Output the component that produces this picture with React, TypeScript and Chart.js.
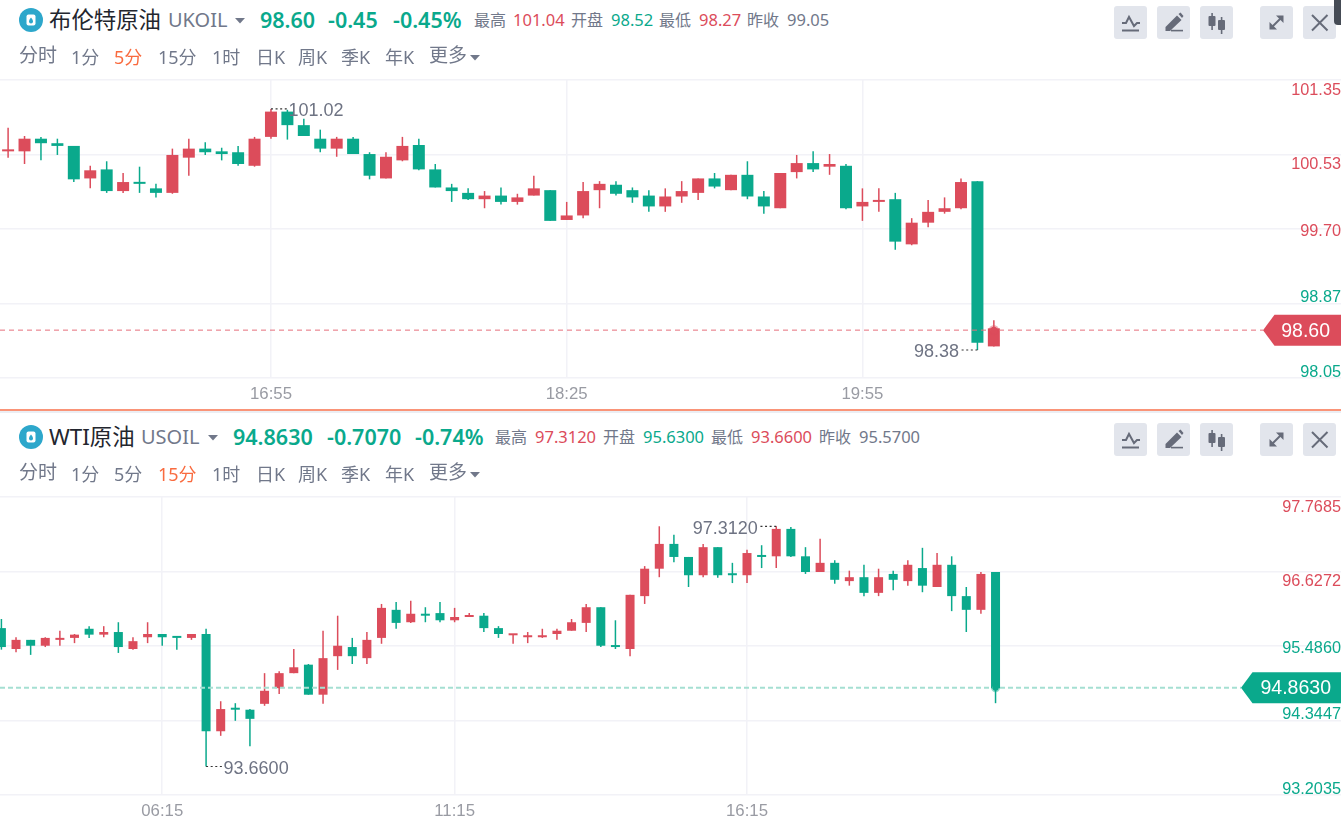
import React, { useEffect, useRef } from "react";
import { Chart, registerables } from "chart.js";

Chart.register(...registerables);

// ---------- Brent (UKOIL) 5 min candles ----------
const brentOpen = [100.56,100.56,100.70,100.65,100.62,100.26,100.36,100.12,100.22,100.15,100.10,100.49,100.59,100.56,100.55,100.40,100.72,101.00,100.85,100.70,100.59,100.70,100.53,100.26,100.46,100.63,100.36,100.16,100.10,100.03,100.07,100.00,100.07,100.13,99.80,99.85,100.13,100.19,100.13,100.07,99.95,100.06,100.10,100.26,100.13,100.30,100.06,99.93,100.33,100.43,100.39,100.40,99.95,100.00,100.03,99.53,99.77,99.89,99.93,100.23,98.40];
const brentHigh = [100.82,100.73,100.72,100.70,100.62,100.40,100.45,100.32,100.39,100.20,100.59,100.70,100.66,100.60,100.62,100.72,101.03,101.02,100.92,100.80,100.72,100.72,100.55,100.55,100.72,100.70,100.42,100.20,100.15,100.12,100.16,100.09,100.29,100.13,100.00,100.22,100.23,100.23,100.16,100.13,100.15,100.23,100.26,100.32,100.30,100.45,100.12,100.32,100.52,100.56,100.53,100.42,100.15,100.15,100.10,99.82,100.02,100.05,100.26,100.23,98.69];
const brentLow = [100.49,100.42,100.46,100.52,100.22,100.15,100.10,100.10,100.10,100.05,100.09,100.29,100.52,100.46,100.40,100.39,100.70,100.69,100.73,100.55,100.50,100.53,100.25,100.26,100.45,100.35,100.16,100.00,100.02,99.93,99.97,99.97,100.07,99.79,99.80,99.82,99.93,100.07,99.99,99.89,99.89,99.99,100.02,100.15,100.13,100.03,99.87,99.93,100.26,100.33,100.30,99.92,99.79,99.89,99.47,99.52,99.72,99.87,99.92,98.36,98.40];
const brentClose = [100.56,100.70,100.65,100.62,100.25,100.35,100.12,100.22,100.20,100.10,100.52,100.59,100.55,100.53,100.42,100.70,101.00,100.85,100.73,100.59,100.70,100.53,100.29,100.50,100.62,100.36,100.16,100.12,100.03,100.07,100.00,100.05,100.15,99.79,99.85,100.12,100.20,100.09,100.05,99.95,100.06,100.12,100.26,100.17,100.30,100.06,99.95,100.32,100.43,100.36,100.42,99.93,100.00,100.00,99.56,99.77,99.89,99.93,100.22,98.44,98.60];
const brentTickValues = [98.05, 98.875, 99.70, 100.525, 101.35];
const brentTickLabels = ["98.05", "98.87", "99.70", "100.53", "101.35"];
const brentTimeSlots = [16, 34, 52];
const brentTimes = ["16:55", "18:25", "19:55"];

// ---------- WTI (USOIL) 15 min candles ----------
const wtiOpen = [95.76,95.44,95.58,95.49,95.58,95.61,95.75,95.66,95.70,95.44,95.62,95.67,95.62,95.61,95.67,94.18,94.52,94.51,94.60,94.84,95.07,95.20,94.74,95.33,95.47,95.30,95.61,96.04,95.85,95.98,95.99,95.88,95.93,95.95,95.76,95.65,95.62,95.62,95.67,95.72,95.84,96.08,95.49,95.44,96.25,96.67,97.05,96.85,96.57,97.00,96.59,96.57,96.86,96.86,97.28,96.86,96.62,96.76,96.48,96.54,96.30,96.59,96.48,96.68,96.39,96.73,96.25,96.04,96.62];
const wtiHigh = [95.90,95.62,95.58,95.62,95.72,95.67,95.79,95.79,95.85,95.62,95.85,95.67,95.62,95.67,95.75,94.64,94.61,94.52,95.07,95.10,95.44,95.21,95.72,95.95,95.61,95.70,96.13,96.16,96.18,96.08,96.16,96.07,95.99,95.99,95.79,95.67,95.70,95.75,95.75,95.90,96.13,96.08,95.88,96.27,96.71,97.32,97.19,96.85,97.05,97.00,96.76,96.96,97.03,97.32,97.31,97.00,97.13,96.80,96.64,96.73,96.67,96.64,96.80,96.99,96.91,96.86,96.39,96.62,96.62];
const wtiLow = [95.43,95.39,95.35,95.47,95.49,95.53,95.61,95.62,95.38,95.43,95.53,95.49,95.43,95.58,93.64,94.11,94.34,93.95,94.57,94.75,95.07,94.74,94.60,95.12,95.21,95.21,95.52,95.75,95.84,95.85,95.85,95.85,95.93,95.70,95.61,95.52,95.53,95.61,95.58,95.72,95.70,95.47,95.44,95.33,96.13,96.54,96.77,96.39,96.54,96.53,96.45,96.45,96.68,96.68,96.85,96.59,96.62,96.44,96.41,96.25,96.25,96.34,96.41,96.31,96.39,96.02,95.70,95.98,94.61];
const wtiClose = [95.47,95.58,95.49,95.61,95.61,95.66,95.66,95.70,95.47,95.56,95.67,95.62,95.61,95.67,94.18,94.52,94.51,94.37,94.80,95.07,95.16,94.74,95.30,95.49,95.33,95.58,96.07,95.84,95.98,95.95,95.88,95.93,95.95,95.76,95.67,95.67,95.65,95.65,95.72,95.85,96.08,95.49,95.47,96.27,96.67,97.05,96.85,96.57,97.00,96.57,96.57,96.91,96.85,97.28,96.86,96.62,96.76,96.50,96.54,96.30,96.54,96.50,96.73,96.41,96.73,96.25,96.04,96.59,94.84];
const wtiTickValues = [93.2035, 94.3447, 95.486, 96.6272, 97.7685];
const wtiTickLabels = ["93.2035", "94.3447", "95.4860", "96.6272", "97.7685"];
const wtiTimeSlots = [11, 31, 51];
const wtiTimes = ["06:15", "11:15", "16:15"];

const RED = "#dc4c5b";
const GREEN = "#0aa98c";
const GRID = "#f2f2f7";
const GRAY = "#71788a";
const ORANGE = "#f96b3f";
const NUM_FONT = '"Liberation Sans", Arial, sans-serif';
const UI_FONT = '"Noto Sans", "Noto Sans CJK SC", sans-serif';

type Note = { i: number; v: number; text: string; dir: 1 | -1 };
type CandleProps = {
  top: number;
  open: number[]; high: number[]; low: number[]; close: number[];
  tickValues: number[]; tickLabels: string[]; prevClose: number;
  midIndex: number;
  slots: number[]; times: string[];
  xMin: number; xMax: number; bodyWidth: number;
  lineLevel: number; lastLabel: string; lineColor: string; lineWidth: number; dash: number[];
  tagColor: string; tipX: number; textRight: number; notes: Note[]; dotRadius: number;
};

function CandleChart(p: CandleProps) {
  const ref = useRef<HTMLCanvasElement | null>(null);
  useEffect(() => {
    if (!ref.current) return;
    const colors = p.close.map((c, i) => (c >= p.open[i] ? RED : GREEN));
    const overlay = {
      id: "overlay",
      afterDatasetsDraw(chart: any) {
        const { ctx, scales } = chart;
        const x = scales.x, y = scales.y;
        const py = y.getPixelForValue(p.lineLevel);
        ctx.save();
        // dashed price line
        ctx.strokeStyle = p.lineColor;
        ctx.lineWidth = p.lineWidth;
        ctx.setLineDash(p.dash);
        ctx.beginPath();
        ctx.moveTo(0, py);
        ctx.lineTo(p.tipX, py);
        ctx.stroke();
        ctx.setLineDash([]);
        // last price dot
        const last = p.close.length - 1;
        ctx.fillStyle = p.tagColor;
        ctx.globalAlpha = 0.45;
        ctx.beginPath();
        ctx.arc(x.getPixelForValue(last), py, p.dotRadius, 0, Math.PI * 2);
        ctx.fill();
        ctx.globalAlpha = 1;
        ctx.beginPath();
        ctx.arc(x.getPixelForValue(last), py, p.dotRadius - 1.5, 0, Math.PI * 2);
        ctx.fill();
        // price tag
        ctx.fillStyle = p.tagColor;
        ctx.beginPath();
        ctx.moveTo(p.tipX, py);
        ctx.lineTo(p.tipX + 11.5, py - 15.5);
        ctx.lineTo(chart.width, py - 15.5);
        ctx.lineTo(chart.width, py + 15.5);
        ctx.lineTo(p.tipX + 11.5, py + 15.5);
        ctx.closePath();
        ctx.fill();
        ctx.fillStyle = "#fff";
        ctx.font = `19.5px ${NUM_FONT}`;
        ctx.textAlign = "right";
        ctx.textBaseline = "middle";
        ctx.fillText(p.lastLabel, p.textRight, py + 1);
        // max / min notes
        for (const n of p.notes) {
          const nx = x.getPixelForValue(n.i), ny = y.getPixelForValue(n.v);
          ctx.strokeStyle = "#333";
          ctx.lineWidth = 1.2;
          ctx.setLineDash([2, 2.6]);
          ctx.beginPath();
          ctx.moveTo(nx, ny);
          ctx.lineTo(nx + n.dir * 16, ny);
          ctx.stroke();
          ctx.setLineDash([]);
          ctx.fillStyle = "#6e7383";
          ctx.font = `18px ${NUM_FONT}`;
          ctx.textAlign = n.dir > 0 ? "left" : "right";
          ctx.fillText(n.text, nx + n.dir * (n.dir > 0 ? 17.5 : 18.5), ny + 2.5);
        }
        ctx.restore();
      },
    };
    const chart = new Chart(ref.current, {
      type: "bar",
      data: {
        datasets: [
          {
            label: "body",
            data: p.open.map((o, i) => ({ x: i, y: [o, p.close[i]] })) as any,
            backgroundColor: colors,
            grouped: false,
            barPercentage: 1,
            categoryPercentage: 1,
            maxBarThickness: p.bodyWidth,
            minBarLength: 2,
            borderWidth: 0,
            inflateAmount: 0,
            order: 1,
          } as any,
          {
            label: "wick",
            data: p.low.map((l, i) => ({ x: i, y: [l, p.high[i]] })) as any,
            backgroundColor: colors,
            grouped: false,
            barPercentage: 1,
            categoryPercentage: 1,
            maxBarThickness: 1.5,
            borderWidth: 0,
            inflateAmount: 0,
            order: 2,
          } as any,
        ],
      },
      options: {
        responsive: false,
        animation: false,
        events: [],
        layout: { padding: 0 },
        plugins: { legend: { display: false }, tooltip: { enabled: false }, title: { display: false } },
        scales: {
          x: {
            type: "linear",
            offset: false,
            min: p.xMin,
            max: p.xMax,
            afterBuildTicks(s: any) { s.ticks = p.slots.map((value) => ({ value })); },
            afterFit(s: any) { s.height = 32; },
            grid: { color: GRID, lineWidth: 1.5, drawTicks: false, offset: false },
            border: { display: false },
            ticks: {
              autoSkip: false,
              maxRotation: 0,
              padding: 8,
              color: "#999ba3",
              font: { size: 16.8, family: NUM_FONT, lineHeight: "16px" },
              callback: (v: any) => p.times[p.slots.indexOf(Number(v))] ?? "",
            },
          },
          y: {
            type: "linear",
            position: "right",
            min: p.tickValues[0],
            max: p.tickValues[p.tickValues.length - 1],
            afterBuildTicks(s: any) { s.ticks = p.tickValues.map((value) => ({ value })); },
            grid: { color: GRID, lineWidth: 1.5, drawTicks: false },
            border: { display: false },
            ticks: {
              mirror: true,
              autoSkip: false,
              padding: 0,
              labelOffset: 2.5,
              font: { size: 16.3, family: NUM_FONT, lineHeight: "16px" },
              color: (c: any) => (c.tick.value > p.prevClose ? RED : GREEN),
              callback: (_v: any, i: number) => {
                const t = p.tickLabels[i];
                if (i === p.midIndex) return t;
                return i > p.midIndex ? ["", t] : [t, ""];
              },
            },
          },
        },
      } as any,
      plugins: [overlay],
    });
    return () => chart.destroy();
  }, []);
  return (
    <canvas
      ref={ref}
      width={1341}
      height={346}
      style={{ position: "absolute", left: 0, top: p.top, width: 1341, height: 346 }}
    />
  );
}

function Txt(props: { x: number; cy: number; size: number; color: string; weight?: number; font?: string; children: React.ReactNode }) {
  const { x, cy, size, color, weight = 400, font = UI_FONT, children } = props;
  return (
    <span
      style={{
        position: "absolute", left: x, top: cy - 15, height: 30, lineHeight: "30px", fontSize: size,
        color, fontWeight: weight, fontFamily: font, whiteSpace: "nowrap",
      }}
    >
      {children}
    </span>
  );
}

function Caret({ x, y, w = 10 }: { x: number; y: number; w?: number }) {
  return (
    <svg style={{ position: "absolute", left: x, top: y }} width={w} height={6}>
      <polygon points={`0,0 ${w},0 ${w / 2},5.5`} fill={GRAY} />
    </svg>
  );
}

const ICON = "#666b79";
function IconBtn({ x, y, kind }: { x: number; y: number; kind: string }) {
  return (
    <div style={{ position: "absolute", left: x, top: y, width: 33, height: 33, background: "#e2e5ec", borderRadius: 3 }}>
      <svg width={33} height={33} viewBox="0 0 33 33" style={{ display: "block" }}>
        {kind === "line" && (
          <g fill="none" stroke={ICON} strokeWidth={2}>
            <path d="M8 17 h4 l3 -6 l5 9 l3 -3 h3" />
            <path d="M8 24.5 h17" />
          </g>
        )}
        {kind === "pen" && (
          <g fill={ICON}>
            <path d="M8.5 21 L20 9.5 L24.5 14 L13 25 H8.5 Z" />
            <path d="M21.5 8 L23.5 6.5 L26.5 10 L25 12 Z" />
            <rect x="14" y="23.8" width="12" height="1.6" />
          </g>
        )}
        {kind === "candle" && (
          <g fill={ICON}>
            <rect x="8.5" y="10" width="7" height="10" rx="1" />
            <rect x="11.3" y="7" width="1.6" height="17" />
            <rect x="18" y="14" width="7" height="10" rx="1" />
            <rect x="20.8" y="11" width="1.6" height="17" />
          </g>
        )}
        {kind === "expand" && (
          <g fill="none" stroke={ICON} strokeWidth={2}>
            <path d="M11 22 L22 11" />
            <path d="M16 9.5 L23.5 9.5 L23.5 17 Z" fill={ICON} stroke="none" />
            <path d="M9.5 16 L9.5 23.5 L17 23.5 Z" fill={ICON} stroke="none" />
          </g>
        )}
        {kind === "close" && <path d="M9 9 L24.5 24.5 M24.5 9 L9 24.5" stroke={ICON} strokeWidth={2} fill="none" />}
      </svg>
    </div>
  );
}

function Logo({ y }: { y: number }) {
  return (
    <svg style={{ position: "absolute", left: 19, top: y }} width={24} height={24}>
      <circle cx={12} cy={12} r={12} fill="#2da7cb" />
      <rect x={7.5} y={6.5} width={9} height={11} rx={2} fill="#fff" />
      <path d="M12 9.5 C13.5 11.5 14 12.5 14 13.4 A2 2 0 0 1 10 13.4 C10 12.5 10.5 11.5 12 9.5 Z" fill="#2da7cb" />
    </svg>
  );
}

const tabs = [
  { t: "分时", x: 19, dy: 0, s: 19 }, { t: "1分", x: 71, dy: 2, s: 18 }, { t: "5分", x: 114, dy: 2, s: 18 },
  { t: "15分", x: 158, dy: 2, s: 18 }, { t: "1时", x: 212, dy: 2, s: 18 }, { t: "日K", x: 256, dy: 2, s: 18 },
  { t: "周K", x: 298, dy: 2, s: 18 }, { t: "季K", x: 341, dy: 2, s: 18 }, { t: "年K", x: 385, dy: 2, s: 18 },
  { t: "更多", x: 429, dy: 0, s: 19 },
];

function Tabs({ cy, active }: { cy: number; active: string }) {
  return (
    <>
      {tabs.map((b) => (
        <Txt key={b.t} x={b.x} cy={cy + b.dy} size={b.s} color={b.t === active ? ORANGE : GRAY}>{b.t}</Txt>
      ))}
      <Caret x={470} y={cy + 0} />
    </>
  );
}

function Icons({ y }: { y: number }) {
  return (
    <>
      <IconBtn x={1114} y={y} kind="line" />
      <IconBtn x={1157} y={y} kind="pen" />
      <IconBtn x={1200} y={y} kind="candle" />
      <IconBtn x={1260} y={y} kind="expand" />
      <IconBtn x={1303} y={y} kind="close" />
    </>
  );
}

export default function App() {
  return (
    <div style={{ position: "fixed", left: 0, top: 0, width: 1341, height: 827, overflow: "hidden", background: "#fff" }}>
      <CandleChart
        top={64}
        open={brentOpen} high={brentHigh} low={brentLow} close={brentClose}
        tickValues={brentTickValues} tickLabels={brentTickLabels} prevClose={99.05} midIndex={2}
        slots={brentTimeSlots} times={brentTimes}
        xMin={-0.493} xMax={81.13} bodyWidth={12}
        lineLevel={98.58} lastLabel="98.60" lineColor="#e66e7c" lineWidth={1} dash={[5, 4]}
        tagColor={RED} tipX={1263} textRight={1330} dotRadius={5}
        notes={[{ i: 16, v: 101.03, text: "101.02", dir: 1 }, { i: 59, v: 98.36, text: "98.38", dir: -1 }]}
      />
      <CandleChart
        top={481}
        open={wtiOpen} high={wtiHigh} low={wtiLow} close={wtiClose}
        tickValues={wtiTickValues} tickLabels={wtiTickLabels} prevClose={95.57} midIndex={2}
        slots={wtiTimeSlots} times={wtiTimes}
        xMin={-0.096} xMax={91.63} bodyWidth={9}
        lineLevel={94.845} lastLabel="94.8630" lineColor="#a5dfd2" lineWidth={2} dash={[5, 3]}
        tagColor={GREEN} tipX={1241} textRight={1331} dotRadius={4.5}
        notes={[{ i: 53, v: 97.32, text: "97.3120", dir: -1 }, { i: 14, v: 93.64, text: "93.6600", dir: 1 }]}
      />

      {/* panel 1 header */}
      <Logo y={8} />
      <Txt x={49} cy={20} size={22.4} color="#23262e">布伦特原油</Txt>
      <Txt x={168} cy={20} size={20} color={GRAY}>UKOIL</Txt>
      <Caret x={235} y={18} />
      <Txt x={260} cy={20} size={21.5} color={GREEN} weight={600}>98.60</Txt>
      <Txt x={328} cy={20} size={21.5} color={GREEN} weight={600}>-0.45</Txt>
      <Txt x={393} cy={20} size={21.5} color={GREEN} weight={600}>-0.45%</Txt>
      <Txt x={474} cy={20} size={16} color={GRAY}>最高</Txt>
      <Txt x={513} cy={20} size={16.5} color={RED}>101.04</Txt>
      <Txt x={571} cy={20} size={16} color={GRAY}>开盘</Txt>
      <Txt x={611} cy={20} size={16.5} color={GREEN}>98.52</Txt>
      <Txt x={659} cy={20} size={16} color={GRAY}>最低</Txt>
      <Txt x={699} cy={20} size={16.5} color={RED}>98.27</Txt>
      <Txt x={747} cy={20} size={16} color={GRAY}>昨收</Txt>
      <Txt x={787} cy={20} size={16.5} color={GRAY}>99.05</Txt>
      <Tabs cy={55} active="5分" />
      <Icons y={6} />
      <div style={{ position: "absolute", left: 1334, top: -4, width: 10, height: 29, background: "#454b55", borderRadius: 4 }} />

      {/* divider */}
      <div style={{ position: "absolute", left: 0, top: 409, width: 1341, height: 2, background: "#fa9478" }} />
      <div style={{ position: "absolute", left: 0, top: 411, width: 1341, height: 2, background: "#eceef3" }} />

      {/* panel 2 header */}
      <Logo y={425} />
      <Txt x={49} cy={437} size={22.4} color="#23262e">WTI原油</Txt>
      <Txt x={141} cy={437} size={20} color={GRAY}>USOIL</Txt>
      <Caret x={208} y={435} />
      <Txt x={233} cy={437} size={21.5} color={GREEN} weight={600}>94.8630</Txt>
      <Txt x={327} cy={437} size={21.5} color={GREEN} weight={600}>-0.7070</Txt>
      <Txt x={415} cy={437} size={21.5} color={GREEN} weight={600}>-0.74%</Txt>
      <Txt x={495} cy={437} size={16} color={GRAY}>最高</Txt>
      <Txt x={535} cy={437} size={16.5} color={RED}>97.3120</Txt>
      <Txt x={603} cy={437} size={16} color={GRAY}>开盘</Txt>
      <Txt x={643} cy={437} size={16.5} color={GREEN}>95.6300</Txt>
      <Txt x={711} cy={437} size={16} color={GRAY}>最低</Txt>
      <Txt x={751} cy={437} size={16.5} color={RED}>93.6600</Txt>
      <Txt x={819} cy={437} size={16} color={GRAY}>昨收</Txt>
      <Txt x={859} cy={437} size={16.5} color={GRAY}>95.5700</Txt>
      <Tabs cy={472} active="15分" />
      <Icons y={423} />
    </div>
  );
}
